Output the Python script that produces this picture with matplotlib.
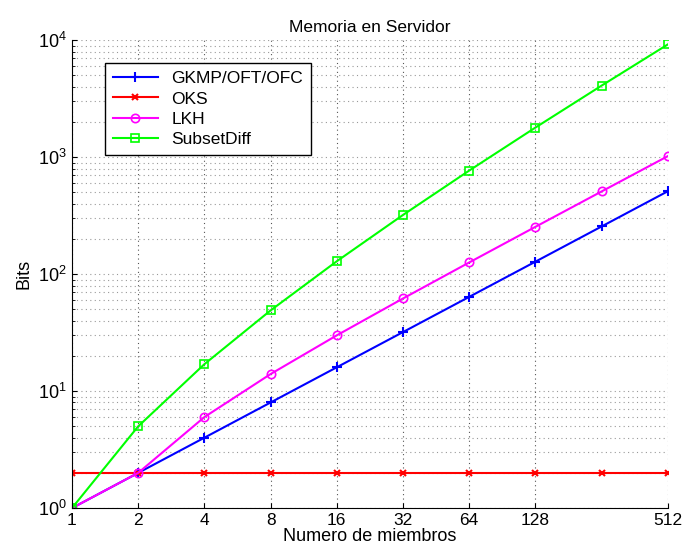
import matplotlib.pyplot as plt
from matplotlib.ticker import FixedLocator, NullFormatter, LogLocator

plt.rcParams['font.family'] = ['Liberation Sans', 'DejaVu Sans']

miembros = [1, 2, 4, 8, 16, 32, 64, 128, 256, 512]
gkmp = [1, 2, 4, 8, 16, 32, 64, 128, 256, 512]
oks = [2, 2, 2, 2, 2, 2, 2, 2, 2, 2]
lkh = [1, 2, 6, 14, 30, 62, 126, 254, 510, 1022]
subsetdiff = [1, 5, 17, 49, 129, 321, 769, 1793, 4097, 9217]
xticks = [1, 2, 4, 8, 16, 32, 64, 128, 512]

fig = plt.figure(figsize=(6.85, 5.59), dpi=100)
ax = fig.add_axes([0.105, 0.091, 0.87, 0.837])

ax.plot(miembros, gkmp, color='#0000ff', marker='+', ms=7, mew=1.5, lw=1.5, label='GKMP/OFT/OFC')
ax.plot(miembros, oks, color='#ff0000', marker='x', ms=4, mew=1.5, lw=1.5, label='OKS')
ax.plot(miembros, lkh, color='#ff00ff', marker='o', ms=6, mfc='none', mew=1.2, lw=1.5, label='LKH')
ax.plot(miembros, subsetdiff, color='#00ff00', marker='s', ms=6, mfc='none', mew=1.2, lw=1.5, label='SubsetDiff')

ax.set_xscale('log', base=2)
ax.set_yscale('log')
ax.set_xlim(1, 512)
ax.set_ylim(1, 1e4)
ax.xaxis.set_major_locator(FixedLocator(xticks))
ax.set_xticklabels([str(t) for t in xticks])
ax.xaxis.set_minor_formatter(NullFormatter())
ax.xaxis.set_minor_locator(FixedLocator([]))
ax.yaxis.set_minor_locator(LogLocator(base=10, subs=range(2, 10)))

ax.grid(True, which='major', axis='x', color='#555555', ls=(0, (1, 3)), lw=0.8)
ax.grid(True, which='both', axis='y', color='#999999', ls=(0, (1, 3)), lw=0.8)
ax.tick_params(direction='in', labelsize=12.5, which='both')
ax.tick_params(axis='y', labelsize=13)
for s in ['top', 'right']:
    ax.spines[s].set_visible(False)

ax.set_title('Memoria en Servidor', fontsize=12.5)
ax.set_xlabel('Numero de miembros', fontsize=13, labelpad=0)
ax.set_ylabel('Bits', fontsize=13)

leg = ax.legend(loc='upper left', bbox_to_anchor=(0.055, 0.951), fontsize=12.5,
                fancybox=False, edgecolor='black', framealpha=1, borderaxespad=0,
                handlelength=2.6, labelspacing=0.3, borderpad=0.45)
leg.get_frame().set_linewidth(1.0)

fig.savefig('out.png', dpi=100)
